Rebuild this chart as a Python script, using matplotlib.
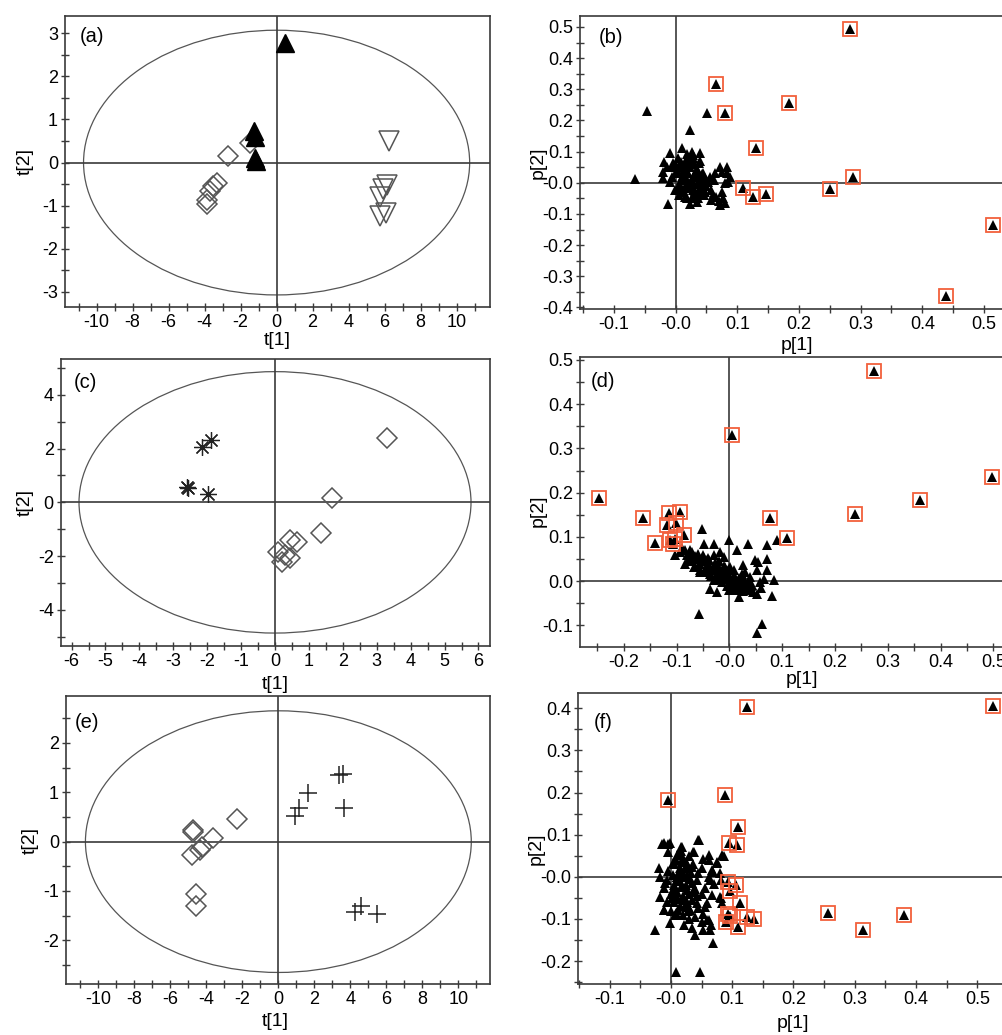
import matplotlib
matplotlib.use("Agg")
import matplotlib.pyplot as plt
from matplotlib.patches import Ellipse
from matplotlib.ticker import MultipleLocator, FuncFormatter

plt.rcParams['font.family'] = ['Liberation Sans', 'DejaVu Sans']

# ---- (a) score plot ----
a_tri_x = [0.46, -1.26, -1.22, -1.2, -1.12]
a_tri_y = [2.77, 0.74, 0.60, 0.11, 0.04]
a_dia_x = [-1.48, -2.72, -3.33, -3.52, -3.7, -3.89, -3.85]
a_dia_y = [0.46, 0.16, -0.48, -0.55, -0.67, -0.87, -0.96]
a_inv_x = [6.26, 6.11, 5.74, 6.1, 5.74, 5.9]
a_inv_y = [0.49, -0.52, -0.79, -1.17, -1.25, -0.62]
a_ell = (10.72, 3.07)

# ---- (b) loading plot ----
b_x = [0.010, -0.009, 0.026, 0.039, -0.019, -0.020, -0.020, 0.004, 0.018, 0.001,
       0.012, 0.023, 0.034, 0.045, 0.029, 0.012, 0.023, 0.007, -0.001, 0.012,
       0.029, 0.039, 0.048, 0.058, 0.053, 0.064, 0.075, 0.083, 0.088, 0.072,
       0.083, 0.085, 0.066, 0.077, 0.058, 0.072, 0.034, 0.023, -0.012, -0.009,
       0.018, -0.047, -0.066, 0.051, 0.024,
       0.005, 0.015, 0.025, 0.030, 0.010, 0.020, 0.030, 0.040, 0.005, 0.015,
       0.025, 0.035, 0.045, 0.020, 0.010, 0.030, 0.040, 0.050, 0.015, 0.035,
       0.000, -0.005, 0.025, 0.040, 0.055, 0.060, 0.070, 0.080, 0.075, 0.080,
       0.008, 0.018, 0.028, 0.038, 0.003, 0.013, 0.022, 0.033, 0.043, 0.008,
       0.017, 0.027, 0.037, 0.047, 0.002, 0.012, 0.021, 0.031, 0.041, -0.006,
       0.006, 0.016, 0.026, 0.036, 0.046, 0.028, 0.019, -0.014, -0.004, 0.062]
b_y = [0.110, 0.094, 0.100, 0.094, 0.067, 0.035, 0.014, 0.078, 0.078, 0.057,
       0.035, 0.051, 0.041, 0.030, 0.019, 0.009, -0.002, -0.007, -0.023, -0.029,
       -0.023, -0.018, -0.029, -0.023, 0.003, 0.030, 0.035, 0.030, 0.019, 0.051,
       0.051, 0.003, -0.045, -0.050, -0.056, -0.072, -0.061, -0.067, -0.067, 0.003,
       -0.050, 0.230, 0.012, 0.223, 0.169,
       0.050, 0.060, 0.070, 0.060, 0.020, 0.030, 0.020, 0.010, -0.010, -0.015,
       -0.010, -0.005, 0.000, 0.000, -0.030, -0.035, -0.040, -0.010, 0.045, 0.045,
       0.030, 0.050, 0.085, 0.070, 0.020, -0.040, -0.060, 0.000, -0.030, -0.065,
       0.068, 0.072, 0.080, 0.064, 0.040, 0.042, 0.050, 0.038, 0.028, 0.010,
       0.015, 0.005, 0.022, 0.015, -0.020, -0.022, -0.018, -0.025, -0.020, 0.020,
       -0.040, -0.045, -0.050, -0.048, -0.040, 0.090, 0.092, 0.050, 0.062, 0.010]
b_sel_x = [0.283, 0.066, 0.080, 0.184, 0.130, 0.110, 0.126, 0.146, 0.251, 0.287, 0.515, 0.438]
b_sel_y = [0.493, 0.316, 0.223, 0.255, 0.112, -0.018, -0.047, -0.036, -0.021, 0.019, -0.134, -0.363]

# ---- (c) score plot ----
c_ast_x = [-1.89, -2.14, -2.59, -2.56, -1.99]
c_ast_y = [2.32, 2.07, 0.58, 0.55, 0.31]
c_dia_x = [3.31, 1.67, 1.36, 0.64, 0.44, 0.10, 0.44, 0.20, 0.30]
c_dia_y = [2.40, 0.15, -1.15, -1.49, -1.40, -1.84, -2.08, -2.21, -1.95]
c_ell = (5.78, 4.86)

# ---- (d) loading plot ----
d_x = [-0.052, 0.000, -0.030, 0.035, 0.071, 0.090, -0.049, -0.018, 0.014, -0.074,
       -0.093, -0.103, -0.084, -0.065, -0.043, -0.024, -0.008, 0.008, 0.023, 0.039,
       0.052, 0.049, 0.055, 0.071, 0.071, 0.058, 0.085, 0.042, 0.017, 0.001,
       -0.018, -0.037, -0.055, -0.078, -0.037, -0.024, 0.018, 0.053, 0.080, -0.049,
       -0.030, 0.001, 0.025, -0.067, -0.057, 0.0625, 0.053,
       -0.090, -0.080, -0.070, -0.060, -0.060, -0.050, -0.045, -0.040, -0.035, -0.030,
       -0.025, -0.020, -0.015, -0.010, -0.005, 0.000, 0.005, 0.010, 0.015, 0.020,
       0.025, 0.030, 0.035, 0.040, 0.045, 0.030, -0.020, -0.010, -0.055, 0.000,
       -0.030, 0.010, -0.070, 0.060, 0.065,
       -0.085, -0.075, -0.065, -0.055, -0.048, -0.042, -0.038, -0.032, -0.027, -0.022,
       -0.017, -0.012, -0.007, -0.002, 0.003, 0.008, 0.013, 0.018, 0.023, 0.028,
       0.033, 0.038, -0.045, -0.035, -0.025, -0.015, -0.005, 0.005, 0.015, 0.025,
       -0.060, -0.050, -0.040, -0.010, 0.000]
d_y = [0.117, 0.093, 0.085, 0.085, 0.081, 0.093, 0.085, 0.066, 0.070, 0.070,
       0.066, 0.059, 0.040, 0.055, 0.047, 0.040, 0.032, 0.025, 0.017, 0.010,
       0.025, 0.047, 0.044, 0.051, 0.025, -0.002, 0.002, -0.009, -0.013, -0.005,
       0.006, 0.017, 0.025, 0.047, -0.017, -0.024, -0.035, -0.028, -0.033, 0.021,
       0.002, 0.032, 0.036, 0.032, -0.075, -0.097, -0.118,
       0.075, 0.060, 0.065, 0.050, 0.035, 0.045, 0.030, 0.040, 0.025, 0.030,
       0.015, 0.025, 0.010, 0.020, 0.005, 0.012, -0.005, 0.005, -0.010, 0.000,
       -0.015, -0.005, -0.020, -0.010, -0.025, 0.020, 0.045, 0.055, 0.020, -0.020,
       0.060, -0.020, 0.045, -0.015, 0.005,
       0.070, 0.055, 0.058, 0.040, 0.052, 0.035, 0.048, 0.030, 0.042, 0.035,
       0.018, 0.028, 0.012, 0.025, 0.002, 0.015, -0.002, 0.008, -0.008, 0.005,
       -0.012, 0.000, 0.020, 0.012, 0.005, -0.002, -0.010, -0.012, -0.018, -0.022,
       0.062, 0.060, 0.052, 0.035, 0.028]
d_sel_x = [0.273, 0.004, 0.497, 0.360, 0.238, 0.076, 0.109, -0.247, -0.163, -0.114,
           -0.093, -0.119, -0.101, -0.141, -0.086, -0.113, -0.107, -0.103]
d_sel_y = [0.475, 0.330, 0.236, 0.183, 0.153, 0.143, 0.098, 0.189, 0.143, 0.154,
           0.157, 0.126, 0.132, 0.087, 0.105, 0.093, 0.085, 0.096]

# ---- (e) score plot ----
e_plus_x = [3.61, 3.39, 1.67, 1.15, 0.93, 3.67, 4.59, 4.26, 5.47]
e_plus_y = [1.38, 1.34, 0.98, 0.69, 0.51, 0.69, -1.30, -1.42, -1.47]
e_dia_x = [-2.31, -3.61, -4.76, -4.72, -4.26, -4.37, -4.81, -4.59, -4.56]
e_dia_y = [0.45, 0.07, 0.24, 0.20, -0.10, -0.17, -0.27, -1.06, -1.30]
e_ell = (10.72, 2.65)

# ---- (f) loading plot ----
f_x = [-0.015, -0.004, 0.018, 0.045, 0.037, 0.010, 0.062, 0.075, 0.083, 0.004,
       0.018, 0.034, 0.050, 0.067, -0.017, -0.007, 0.010, 0.026, 0.042, 0.062,
       0.070, 0.081, -0.012, 0.004, 0.018, 0.037, 0.055, 0.067, 0.081, -0.017,
       -0.007, 0.010, 0.026, 0.042, 0.056, 0.032, -0.012, 0.007, 0.040, 0.050,
       0.062, 0.066, 0.021, -0.026, -0.001, 0.011, -0.012, -0.019, -0.012, -0.001,
       0.017, 0.046, 0.036, 0.052, 0.063, 0.075, 0.087, 0.080, 0.069, 0.064,
       0.080, 0.083, 0.059, 0.053, 0.059, 0.040, 0.053, 0.064, 0.068, 0.034,
       0.031, 0.0087, 0.048,
       0.005, 0.015, 0.025, 0.010, 0.020, 0.030, 0.005, 0.015, 0.025, 0.035,
       0.000, 0.010, 0.020, 0.030, 0.040, 0.005, 0.015, 0.025, 0.035, 0.045,
       0.020, 0.030, -0.005, -0.010, 0.050, 0.045, 0.000, 0.020, 0.030,
       0.008, 0.018, 0.028, 0.013, 0.023, 0.033, 0.003, 0.012, 0.022, 0.032,
       0.007, 0.017, 0.027, 0.037, 0.002, 0.012, 0.022, 0.042, 0.008, 0.028,
       -0.004, 0.016, 0.036, 0.024, 0.014]
f_y = [0.079, 0.079, 0.071, 0.088, 0.059, 0.051, 0.051, 0.036, 0.051, 0.032,
       0.036, 0.024, 0.020, 0.016, 0.000, -0.008, 0.000, 0.004, -0.008, 0.000,
       -0.016, -0.008, -0.027, -0.032, -0.024, -0.036, -0.027, -0.043, -0.051, -0.047,
       -0.059, -0.051, -0.059, -0.063, -0.071, -0.079, -0.079, -0.091, -0.095, -0.107,
       -0.103, -0.114, -0.114, -0.126, -0.110, -0.079, -0.079, 0.020, 0.080, 0.080,
       0.071, 0.087, 0.059, 0.043, 0.040, 0.033, 0.050, 0.010, 0.012, -0.008,
       -0.047, -0.063, -0.063, -0.087, -0.103, -0.138, -0.126, -0.126, -0.156, -0.122,
       -0.079, -0.226, -0.226,
       0.030, 0.020, 0.035, 0.000, 0.010, 0.000, -0.020, -0.010, -0.020, -0.015,
       -0.040, -0.035, -0.045, -0.040, -0.030, -0.060, -0.070, -0.065, -0.055, -0.075,
       0.045, 0.050, 0.015, -0.015, -0.040, 0.010, -0.080, -0.090, -0.100,
       0.040, 0.038, 0.025, 0.012, 0.022, 0.010, 0.005, -0.005, 0.000, -0.005,
       -0.028, -0.025, -0.032, -0.028, -0.050, -0.052, -0.055, -0.045, -0.085, -0.082,
       0.060, 0.062, 0.030, -0.072, 0.055]
f_sel_x = [0.124, 0.525, -0.005, 0.0886, 0.109, 0.0956, 0.108, 0.094, 0.107, 0.097,
           0.113, 0.094, 0.090, 0.097, 0.124, 0.136, 0.109, 0.256, 0.314, 0.381]
f_sel_y = [0.403, 0.405, 0.183, 0.194, 0.118, 0.081, 0.075, -0.012, -0.020, -0.033,
           -0.061, -0.087, -0.108, -0.093, -0.095, -0.099, -0.120, -0.085, -0.125, -0.091]

W, H = 1003, 1035
AX_COL = '#3a3a3a'
BOX_COL = '#f2603c'


def px_axes(left, top, right, bottom):
    return [left / W, 1 - bottom / H, (right - left) / W, (bottom - top) / H]


def fmt_int(v, pos):
    return f'{v:.0f}'


def fmt_dec(zero_lbl):
    def f(v, pos):
        if abs(v) < 1e-9:
            return zero_lbl
        return f'{v:.1f}'
    return f


def setup(ax, xlim, ylim, xmaj, xmin, ymaj, ymin, xfmt, yfmt,
          xlabel, ylabel, tag, tagpos, xlc, ylc):
    ax.set_xlim(*xlim)
    ax.set_ylim(*ylim)
    ax.axhline(0, color=AX_COL, lw=1.2, zorder=1)
    ax.axvline(0, color=AX_COL, lw=1.2, zorder=1)
    ax.xaxis.set_major_locator(MultipleLocator(xmaj))
    ax.xaxis.set_minor_locator(MultipleLocator(xmin))
    ax.yaxis.set_major_locator(MultipleLocator(ymaj))
    ax.yaxis.set_minor_locator(MultipleLocator(ymin))
    ax.xaxis.set_major_formatter(FuncFormatter(xfmt))
    ax.yaxis.set_major_formatter(FuncFormatter(yfmt))
    ax.tick_params(which='both', direction='inout', length=6, width=1,
                   color=AX_COL, labelsize=13, pad=2)
    for s in ax.spines.values():
        s.set_color(AX_COL)
        s.set_linewidth(1.2)
    ax.set_xlabel(xlabel, fontsize=14)
    ax.set_ylabel(ylabel, fontsize=14)
    ax.xaxis.set_label_coords(*xlc)
    ax.yaxis.set_label_coords(*ylc)
    ax.xaxis.label.set_verticalalignment('center')
    ax.yaxis.label.set_verticalalignment('center')
    ax.text(tagpos[0], tagpos[1], tag, transform=ax.transAxes,
            ha='center', va='center', fontsize=14.5)


def loadings(ax, x, y, sx, sy):
    ax.plot(x, y, '^', color='black', ms=7, mew=0, zorder=3)
    ax.plot(sx, sy, '^', color='black', ms=6.5, mew=0, zorder=3)
    ax.plot(sx, sy, 's', mfc='none', mec=BOX_COL, ms=10, mew=1.3, zorder=4)


fig = plt.figure(figsize=(W / 100, H / 100), dpi=100)

# (a)
ax = fig.add_axes(px_axes(65, 16, 490, 307))
ax.add_patch(Ellipse((0, 0), 2 * a_ell[0], 2 * a_ell[1], fill=False, ec='#555555', lw=0.9))
ax.plot(a_dia_x, a_dia_y, 'D', mfc='none', mec='#555555', ms=10, mew=1.1, zorder=3)
ax.plot(a_inv_x, a_inv_y, 'v', mfc='none', mec='#555555', ms=14, mew=1.1, zorder=3)
ax.plot(a_tri_x, a_tri_y, '^', color='black', ms=13, zorder=3)
setup(ax, (-11.75, 11.85), (-3.35, 3.4), 2, 1, 1, 0.5, fmt_int, fmt_int,
      't[1]', 't[2]', '(a)', (0.063, 0.929), (0.5, -0.115), (-0.094, 0.5))

# (b)
ax = fig.add_axes(px_axes(580, 15.7, 1013, 309))
loadings(ax, b_x, b_y, b_sel_x, b_sel_y)
setup(ax, (-0.155, 0.547), (-0.405, 0.536), 0.1, 0.05, 0.1, 0.05,
      fmt_dec('-0.0'), fmt_dec('-0.0'),
      'p[1]', 'p[2]', '(b)', (0.072, 0.926), (0.5, -0.123), (-0.097, 0.5))

# (c)
ax = fig.add_axes(px_axes(60.7, 359, 490, 645.7))
ax.add_patch(Ellipse((0, 0), 2 * c_ell[0], 2 * c_ell[1], fill=False, ec='#555555', lw=0.9))
ax.plot(c_dia_x, c_dia_y, 'D', mfc='none', mec='#555555', ms=10, mew=1.1, zorder=3)
ax.plot(c_ast_x, c_ast_y, marker=(8, 2, 0), ls='none', color='#222222', ms=12, mew=0.9, zorder=3)
setup(ax, (-6.32, 6.34), (-5.33, 5.33), 1, 0.5, 2, 1, fmt_int, fmt_int,
      't[1]', 't[2]', '(c)', (0.057, 0.919), (0.5, -0.134), (-0.083, 0.5))

# (d)
ax = fig.add_axes(px_axes(580, 357.3, 1023, 646.7))
loadings(ax, d_x, d_y, d_sel_x, d_sel_y)
setup(ax, (-0.283, 0.556), (-0.148, 0.506), 0.1, 0.05, 0.1, 0.05,
      fmt_dec('-0.0'), fmt_dec('0.0'),
      'p[1]', 'p[2]', '(d)', (0.051, 0.916), (0.5, -0.115), (-0.095, 0.47))

# (e)
ax = fig.add_axes(px_axes(66, 696, 490, 984.3))
ax.add_patch(Ellipse((0, 0), 2 * e_ell[0], 2 * e_ell[1], fill=False, ec='#555555', lw=0.9))
ax.plot(e_dia_x, e_dia_y, 'D', mfc='none', mec='#555555', ms=10, mew=1.1, zorder=3)
ax.plot(e_plus_x, e_plus_y, '+', color='#222222', ms=13, mew=1.1, zorder=3)
setup(ax, (-11.8, 11.76), (-2.89, 2.95), 2, 1, 1, 0.5, fmt_int, fmt_int,
      't[1]', 't[2]', '(e)', (0.050, 0.909), (0.493, -0.13), (-0.085, 0.5))

# (f)
ax = fig.add_axes(px_axes(578.3, 692.7, 1008, 984.3))
loadings(ax, f_x, f_y, f_sel_x, f_sel_y)
setup(ax, (-0.151, 0.550), (-0.255, 0.437), 0.1, 0.05, 0.1, 0.05,
      fmt_dec('-0.0'), fmt_dec('-0.0'),
      'p[1]', 'p[2]', '(f)', (0.058, 0.897), (0.5, -0.133), (-0.097, 0.466))

fig.savefig('out.png', dpi=100)
